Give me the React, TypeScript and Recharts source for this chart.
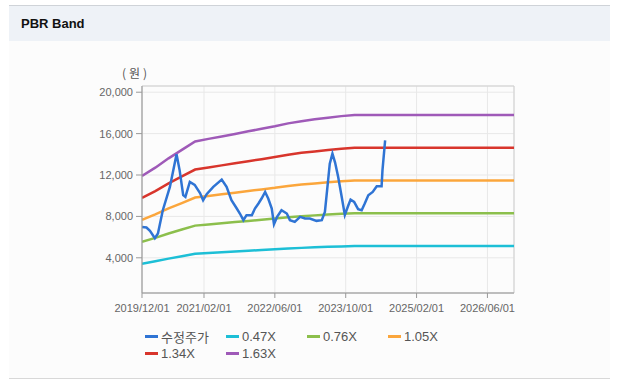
import React from "react";
import {
  LineChart,
  Line,
  XAxis,
  YAxis,
  CartesianGrid,
  ReferenceArea,
} from "recharts";

// x axis is in months since 2019/12/01
const xTicks = [0, 14, 30, 46, 62, 78];
const xTickLabels = ["2019/12/01", "2021/02/01", "2022/06/01", "2023/10/01", "2025/02/01", "2026/06/01"];
const yTicks = [4000, 8000, 12000, 16000, 20000];

const bandMonths = [0, 3, 6, 9, 12, 15, 18, 21, 24, 27, 30, 33, 36, 39, 42, 45, 48, 84];
const band047 = [3430, 3670, 3920, 4160, 4390, 4470, 4540, 4610, 4680, 4750, 4820, 4900, 4960, 5010, 5060, 5100, 5130, 5130];
const band076 = [5550, 5930, 6350, 6730, 7110, 7220, 7330, 7450, 7560, 7680, 7790, 7920, 8020, 8100, 8180, 8250, 8300, 8300];
const band105 = [7670, 8190, 8770, 9290, 9820, 9980, 10130, 10290, 10450, 10610, 10760, 10940, 11080, 11190, 11300, 11390, 11470, 11470];
const band134 = [9780, 10450, 11190, 11860, 12530, 12730, 12930, 13130, 13330, 13530, 13740, 13960, 14140, 14280, 14420, 14540, 14630, 14630];
const band163 = [11900, 12710, 13610, 14430, 15240, 15490, 15730, 15970, 16220, 16460, 16710, 16990, 17200, 17380, 17540, 17690, 17800, 17800];

const priceMonths = [
  0, 1.0, 1.8, 2.9, 3.6, 4.7, 6.3, 7.8, 8.5, 9.3, 9.8, 10.8, 11.9, 13.1, 13.8, 14.6, 16.1, 18.0, 19.1,
  20.2, 21.4, 22.1, 22.9, 23.6, 24.8, 25.5, 26.3, 27.0, 27.8, 28.5, 29.3, 29.8, 30.5, 31.5, 32.7, 33.4,
  34.5, 35.7, 36.8, 37.9, 39.4, 40.6, 41.3, 41.8, 42.4, 43.0, 43.6, 44.3, 45.1, 45.8, 46.6, 47.1, 47.9,
  48.8, 49.6, 50.3, 51.1, 52.1, 53.0, 54.1, 54.3, 54.7, 54.9,
];
const priceValues = [
  6990, 6930, 6600, 5900, 6350, 8600, 10850, 14000, 12450, 10050, 9880, 11330, 11050, 10250, 9560, 10150, 10850, 11560, 10850,
  9560, 8760, 8280, 7640, 8120, 8120, 8760, 9250, 9730, 10360, 9730, 8760, 7250, 7950, 8600, 8280, 7640,
  7470, 7950, 7800, 7800, 7570, 7640, 8440, 10530, 13100, 14060, 13200, 11810, 9880, 8150, 9080, 9630, 9400,
  8700, 8600, 9250, 10050, 10360, 10910, 10910, 12450, 14380, 15350,
];

const bandData = bandMonths.map((m, i) => ({
  m,
  b047: band047[i],
  b076: band076[i],
  b105: band105[i],
  b134: band134[i],
  b163: band163[i],
}));
const priceData = priceMonths.map((m, i) => ({ m, price: priceValues[i] }));

const series = [
  { key: "price", name: "수정주가", color: "#2f74d4" },
  { key: "b047", name: "0.47X", color: "#1dbfd6" },
  { key: "b076", name: "0.76X", color: "#8cbf4c" },
  { key: "b105", name: "1.05X", color: "#fba63c" },
  { key: "b134", name: "1.34X", color: "#d8352c" },
  { key: "b163", name: "1.63X", color: "#9f5ab8" },
];

const font = "'Liberation Sans', Arial, 'Noto Sans CJK KR', sans-serif";

export default function App() {
  const bands = series.filter((s) => s.key !== "price");
  return (
    <div
      style={{
        position: "absolute",
        left: 0,
        top: 0,
        width: 622,
        height: 382,
        background: "#fff",
        fontFamily: font,
        overflow: "hidden",
      }}
    >
      <div
        style={{
          position: "absolute",
          left: 9,
          top: 5,
          width: 601,
          height: 372,
          borderTop: "1px solid #cfd3d8",
          borderBottom: "1px solid #d8d8d8",
          background: "#fcfcfc",
        }}
      >
        <div
          style={{
            height: 35,
            background: "#eef2f7",
            fontWeight: "bold",
            fontSize: 13,
            lineHeight: "36px",
            paddingLeft: 12,
            color: "#111",
          }}
        >
          PBR Band
        </div>
      </div>

      <div
        style={{
          position: "absolute",
          left: 122,
          top: 64,
          fontSize: 12,
          color: "#555",
          letterSpacing: 3,
          fontFamily: "'Noto Sans CJK KR', sans-serif",
        }}
      >
        (원)
      </div>

      <div style={{ position: "absolute", left: 0, top: 0 }}>
        <LineChart
          width={622}
          height={330}
          margin={{ top: 86, right: 108, left: 82, bottom: 7 }}
        >
          <CartesianGrid stroke="#e8e8e8" strokeWidth={1} />
          <ReferenceArea x1={0} x2={84} y1={600} y2={20600} fill="none" stroke="#d0d0d0" />
          <XAxis
            type="number"
            dataKey="m"
            domain={[0, 84]}
            ticks={xTicks}
            tickFormatter={(v: number) => xTickLabels[xTicks.indexOf(v)] ?? ""}
            stroke="#999"
            tickSize={5}
            tickMargin={6}
            height={30}
            tick={{ fontSize: 11, fill: "#666", fontFamily: font }}
            interval={0}
            allowDataOverflow
          />
          <YAxis
            type="number"
            domain={[600, 20600]}
            ticks={yTicks}
            tickFormatter={(v: number) => v.toLocaleString("en-US")}
            stroke="#999"
            tickSize={6}
            tickMargin={3}
            width={60}
            tick={{ fontSize: 11, fill: "#666", fontFamily: font }}
            interval={0}
            allowDataOverflow
          />
          {bands.map((s) => (
            <Line
              key={s.key}
              data={bandData}
              dataKey={s.key}
              name={s.name}
              type="linear"
              stroke={s.color}
              strokeWidth={2.5}
              dot={false}
              activeDot={false}
              isAnimationActive={false}
            />
          ))}
          <Line
            data={priceData}
            dataKey="price"
            name="수정주가"
            type="linear"
            stroke="#2f74d4"
            strokeWidth={2.5}
            dot={false}
            activeDot={false}
            isAnimationActive={false}
          />
        </LineChart>
      </div>

      <div
        style={{
          position: "absolute",
          left: 145,
          top: 328,
          width: 330,
          display: "flex",
          flexWrap: "wrap",
          fontSize: 13,
          color: "#555",
          fontFamily: font,
        }}
      >
        {series.map((s) => (
          <div
            key={s.key}
            style={{ width: 81, height: 17, display: "flex", alignItems: "center", whiteSpace: "nowrap" }}
          >
            <span
              style={{
                display: "inline-block",
                width: 13,
                height: 3,
                background: s.color,
                marginRight: 3,
              }}
            />
            <span style={{ fontFamily: s.key === "price" ? "'Noto Sans CJK KR', sans-serif" : font }}>{s.name}</span>
          </div>
        ))}
      </div>
    </div>
  );
}
